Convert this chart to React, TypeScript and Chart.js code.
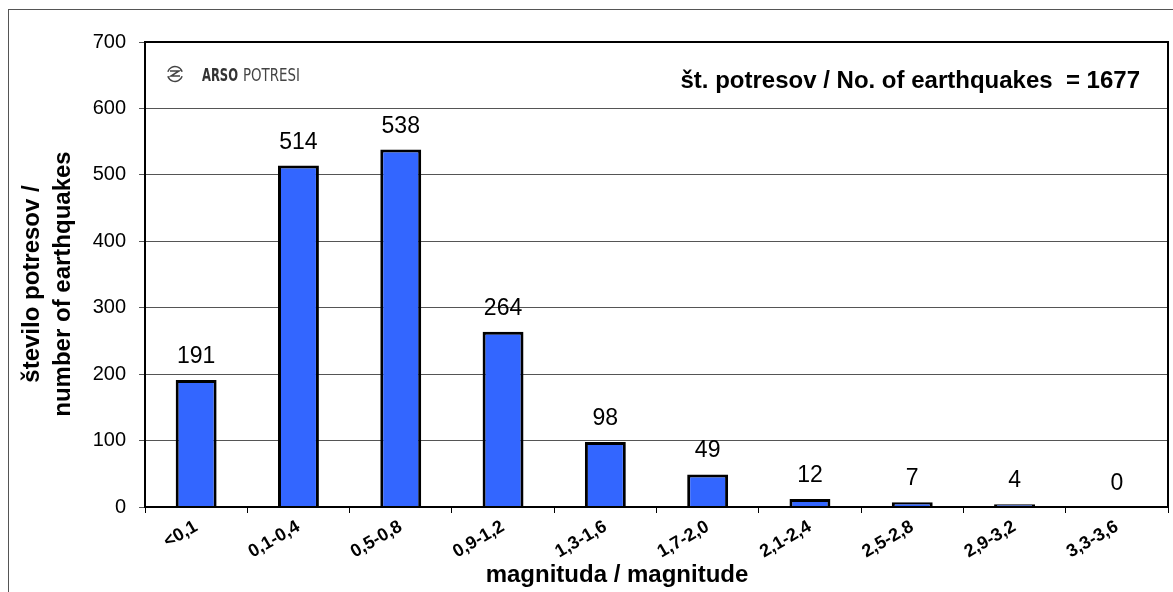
import React, { useEffect, useRef } from "react";
import { Chart, registerables } from "chart.js";

Chart.register(...registerables);

const categories = ["<0,1", "0,1-0,4", "0,5-0,8", "0,9-1,2", "1,3-1,6", "1,7-2,0", "2,1-2,4", "2,5-2,8", "2,9-3,2", "3,3-3,6"];
const counts = [191, 514, 538, 264, 98, 49, 12, 7, 4, 0];
const totalLabel = "št. potresov / No. of earthquakes  = 1677";
const xTitle = "magnituda / magnitude";
const yTitleLines = ["število potresov /", "number of earthquakes"];
const yMin = 0;
const yMax = 700;
const yStep = 100;

const FONT = '"Liberation Sans", Arial, sans-serif';

const decorPlugin = {
  id: "decor",
  afterDatasetsDraw(chart: any) {
    const ctx = chart.ctx;
    const meta = chart.getDatasetMeta(0);
    ctx.save();
    ctx.fillStyle = "#000";
    ctx.font = `23px ${FONT}`;
    ctx.textAlign = "center";
    ctx.textBaseline = "alphabetic";
    meta.data.forEach((bar: any, i: number) => {
      const y = chart.scales.y.getPixelForValue(counts[i]);
      ctx.fillText(String(counts[i]), bar.x, y - 17);
    });
    ctx.restore();
  },
  afterDraw(chart: any) {
    const ctx = chart.ctx;
    const a = chart.chartArea;
    ctx.save();
    // outer frame
    ctx.strokeStyle = "#555";
    ctx.lineWidth = 1;
    ctx.strokeRect(8.5, 9.5, 1400, 800);
    // plot frame
    ctx.strokeStyle = "#000";
    ctx.lineWidth = 2;
    ctx.strokeRect(a.left, a.top, a.right - a.left, a.bottom - a.top);

    // header text
    ctx.fillStyle = "#000";
    ctx.font = `bold 24px ${FONT}`;
    ctx.textAlign = "right";
    ctx.textBaseline = "alphabetic";
    ctx.fillText(totalLabel, 1140, 88);

    // x title
    ctx.textAlign = "center";
    ctx.fillText(xTitle, 617, 582);

    // y title
    const xs = [39, 70];
    yTitleLines.forEach((t, i) => {
      ctx.save();
      ctx.translate(xs[i], 284);
      ctx.rotate(-Math.PI / 2);
      ctx.textAlign = "center";
      ctx.textBaseline = "alphabetic";
      ctx.fillText(t, 0, 0);
      ctx.restore();
    });

    // logo icon
    ctx.strokeStyle = "#444";
    ctx.lineWidth = 1.5;
    const cx = 175, cy = 74, r = 7.5;
    ctx.beginPath();
    ctx.arc(cx, cy, r, Math.PI * 1.1, Math.PI * 1.9);
    ctx.stroke();
    ctx.beginPath();
    ctx.arc(cx, cy, r, Math.PI * 0.1, Math.PI * 0.9);
    ctx.stroke();
    ctx.beginPath();
    ctx.moveTo(cx - 5, cy - 3);
    ctx.lineTo(cx + 4, cy - 3);
    ctx.lineTo(cx - 4, cy + 2);
    ctx.lineTo(cx + 5, cy + 2);
    ctx.stroke();

    // logo text
    const drawFit = (text: string, font: string, x: number, w: number, color: string) => {
      ctx.font = font;
      const m = ctx.measureText(text).width;
      ctx.save();
      ctx.translate(x, 81);
      ctx.scale(w / m, 1);
      ctx.fillStyle = color;
      ctx.textAlign = "left";
      ctx.fillText(text, 0, 0);
      ctx.restore();
    };
    drawFit("ARSO", `bold 18px "Liberation Sans Narrow", "DejaVu Sans Condensed", ${FONT}`, 202, 36, "#333");
    drawFit("POTRESI", `18px "Liberation Sans Narrow", "DejaVu Sans Condensed", ${FONT}`, 243, 57, "#444");
    ctx.restore();
  },
};

export default function App() {
  const ref = useRef<HTMLCanvasElement>(null);
  useEffect(() => {
    document.body.style.margin = "0";
    const chart = new Chart(ref.current!, {
      type: "bar",
      data: {
        labels: categories,
        datasets: [
          {
            data: counts,
            backgroundColor: "#3366FF",
            borderColor: "#000",
            borderWidth: 3,
            barPercentage: 0.4,
            categoryPercentage: 1,
          },
        ],
      },
      options: {
        responsive: false,
        animation: false,
        devicePixelRatio: 1,
        layout: { padding: { left: 0, top: 42, right: 5, bottom: 0 } },
        plugins: { legend: { display: false }, tooltip: { enabled: false }, title: { display: false } },
        scales: {
          x: {
            grid: { drawOnChartArea: false, drawTicks: true, tickLength: 6, color: "#000", offset: true },
            border: { display: true, color: "#000", width: 2 },
            ticks: {
              color: "#000",
              font: { family: FONT, size: 18, weight: "bold" },
              minRotation: 30,
              maxRotation: 30,
              padding: 3,
              autoSkip: false,
            },
            afterFit: (s: any) => {
              s.height = 85;
            },
          },
          y: {
            min: yMin,
            max: yMax,
            grid: { color: "#555", lineWidth: 1, tickLength: 6 },
            border: { display: true, color: "#000", width: 2 },
            ticks: { stepSize: yStep, color: "#000", font: { family: FONT, size: 20 }, padding: 13 },
            afterFit: (s: any) => {
              s.width = 145;
            },
          },
        },
      },
      plugins: [decorPlugin],
    });
    return () => chart.destroy();
  }, []);
  return (
    <div style={{ position: "fixed", left: 0, top: 0, width: 1173, height: 592, background: "#fff" }}>
      <canvas ref={ref} width={1173} height={592} style={{ display: "block" }} />
    </div>
  );
}
